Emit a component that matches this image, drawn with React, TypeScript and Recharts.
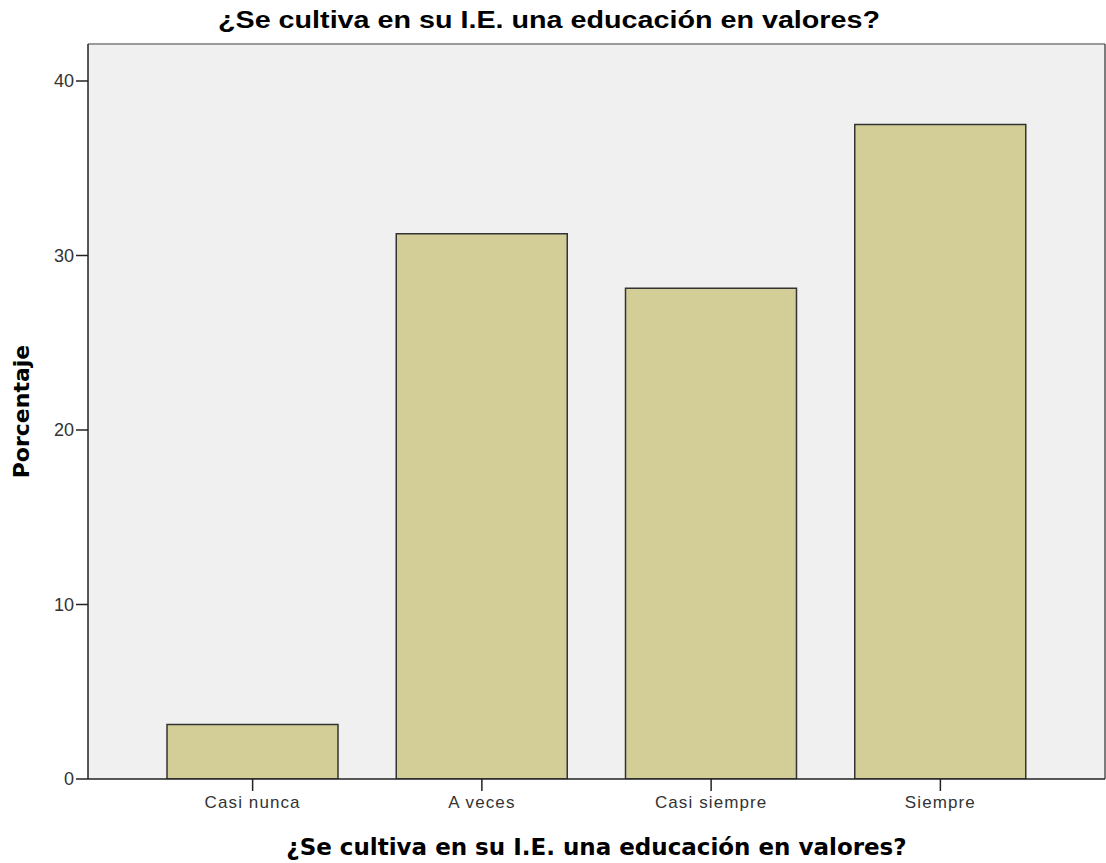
import { BarChart, Bar, XAxis, YAxis, CartesianGrid, Label } from 'recharts';

const categories = ['Casi nunca', 'A veces', 'Casi siempre', 'Siempre'];
const percentages = [3.125, 31.25, 28.125, 37.5];
const yTicks = [0, 10, 20, 30, 40];
const chartTitle = '¿Se cultiva en su I.E. una educación en valores?';
const yTitle = 'Porcentaje';

const data = categories.map((name, i) => ({ name, value: percentages[i] }));

const W = 1106;
const H = 863;

function BottomTitle(props: any) {
  const { x, width } = props.viewBox;
  return (
    <text
      x={x + width / 2}
      y={855}
      textAnchor="middle"
      fontFamily="'DejaVu Sans', sans-serif"
      fontWeight="bold"
      fontSize={23}
      fill="#000"
    >
      {chartTitle}
    </text>
  );
}

function SideTitle(props: any) {
  const { y, height } = props.viewBox;
  const cy = y + height / 2;
  return (
    <text
      x={29}
      y={cy}
      textAnchor="middle"
      transform={`rotate(-90, 29, ${cy})`}
      fontFamily="'DejaVu Sans', sans-serif"
      fontWeight="bold"
      fontSize={22}
      fill="#000"
    >
      {yTitle}
    </text>
  );
}

export default function App() {
  return (
    <div style={{ position: 'absolute', left: 0, top: 0, width: W, height: H, background: '#fff' }}>
      <svg width={W} height={40} style={{ position: 'absolute', left: 0, top: 0 }}>
        <text
          x={W / 2 - 4}
          y={28}
          textAnchor="middle"
          fontFamily="'Liberation Sans', Arial, sans-serif"
          fontWeight="bold"
          fontSize={23}
          fill="#000"
          textLength={662}
          lengthAdjust="spacingAndGlyphs"
        >
          {chartTitle}
        </text>
      </svg>
      <BarChart width={W} height={H} data={data} margin={{ top: 43, right: 0, bottom: 0, left: 0 }}>
        <CartesianGrid fill="#f0f0f0" horizontal={false} vertical={false} />
        <XAxis
          xAxisId="top"
          orientation="top"
          dataKey="name"
          height={1}
          tick={false}
          tickLine={false}
          axisLine={{ stroke: '#9a9a9a', strokeWidth: 2 }}
          padding={{ left: 50, right: 50 }}
        />
        <YAxis
          yAxisId="right"
          orientation="right"
          width={1}
          domain={[0, 42.12]}
          tick={false}
          tickLine={false}
          axisLine={{ stroke: '#555', strokeWidth: 1.5 }}
        />
        <XAxis
          dataKey="name"
          height={84}
          padding={{ left: 50, right: 50 }}
          tickSize={12}
          tickMargin={5}
          axisLine={{ stroke: '#222', strokeWidth: 1.5 }}
          tickLine={{ stroke: '#222', strokeWidth: 1.5 }}
          tick={{ fill: '#333', fontSize: 17, fontFamily: "'Liberation Sans', Arial, sans-serif", letterSpacing: 1.1 }}
        >
          <Label content={<BottomTitle />} />
        </XAxis>
        <YAxis
          width={88}
          domain={[0, 42.12]}
          ticks={yTicks}
          allowDataOverflow
          tickSize={12}
          tickMargin={2}
          axisLine={{ stroke: '#222', strokeWidth: 1.5 }}
          tickLine={{ stroke: '#222', strokeWidth: 1.5 }}
          tick={{ fill: '#333', fontSize: 18, fontFamily: "'Liberation Sans', Arial, sans-serif" }}
        >
          <Label content={<SideTitle />} />
        </YAxis>
        <Bar
          dataKey="value"
          fill="#d3ce97"
          stroke="#333"
          strokeWidth={1.5}
          barSize={171}
          isAnimationActive={false}
        />
      </BarChart>
    </div>
  );
}
